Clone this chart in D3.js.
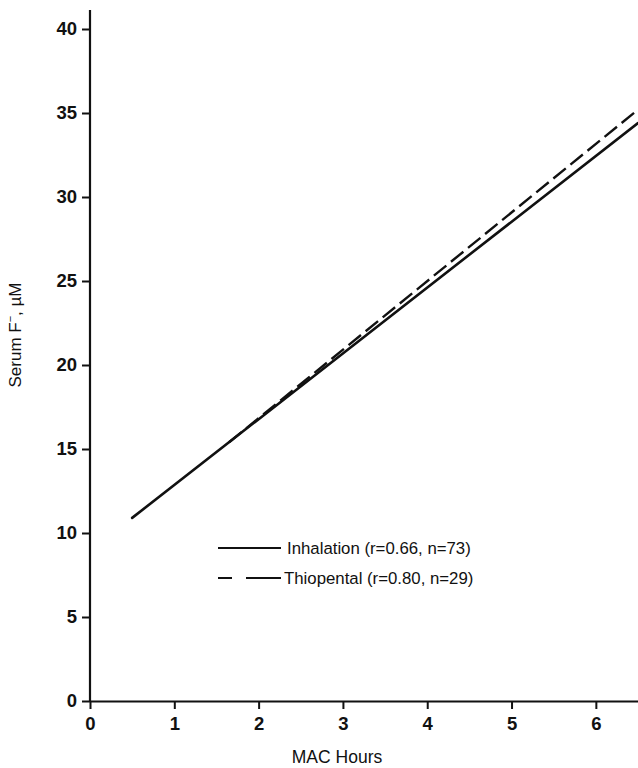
<!DOCTYPE html>
<html>
<head>
<meta charset="utf-8">
<script src="https://cdn.jsdelivr.net/npm/d3@7"></script>
<style>
  body { margin: 0; background: #fff; }
  text { font-family: "Liberation Sans", Arial, sans-serif; fill: #111; }
</style>
</head>
<body>
<svg id="chart"></svg>
<script>
/* chart size and margins */
const width = 638, height = 768;
const margin = { top: 10, right: 0, bottom: 67, left: 90 };

/* data */
const xTicks = [0, 1, 2, 3, 4, 5, 6];
const yTicks = [0, 5, 10, 15, 20, 25, 30, 35, 40];
const inhalationX = [0.5, 6.5];
const inhalationY = [10.9, 34.4];
const thiopentalX = [1.65, 6.5];
const thiopentalY = [15.4, 35.2];
const legendLabels = ["Inhalation (r=0.66, n=73)", "Thiopental (r=0.80, n=29)"];

const svg = d3.select("#chart").attr("width", width).attr("height", height);

/* scales */
const xScale = d3.scaleLinear().domain([0, 6.5]).range([margin.left, width - margin.right]);
const yScale = d3.scaleLinear().domain([0, 40]).range([height - margin.bottom, 29]);

/* x axis */
const xAxis = svg.append("g").attr("transform", `translate(0, ${height - margin.bottom})`)
  .call(d3.axisBottom(xScale).tickValues(xTicks).tickFormat(d3.format("d"))
    .tickSize(8).tickPadding(8).tickSizeOuter(0));
xAxis.select(".domain").attr("stroke-width", 2.2).attr("stroke", "#111");
xAxis.selectAll(".tick line").attr("stroke-width", 2).attr("stroke", "#111");
xAxis.selectAll(".tick text").attr("font-size", 18.5).style("font-weight", "bold");

/* y axis, drawn up to the top of the plot */
const yAxis = svg.append("g").attr("transform", `translate(${margin.left}, 0)`)
  .call(d3.axisLeft(yScale).tickValues(yTicks).tickFormat(d3.format("d"))
    .tickSize(8).tickPadding(5).tickSizeOuter(0));
yAxis.select(".domain").attr("d", `M0,${height - margin.bottom}V${margin.top}`)
  .attr("stroke-width", 2.2).attr("stroke", "#111");
yAxis.selectAll(".tick line").attr("stroke-width", 2).attr("stroke", "#111");
yAxis.selectAll(".tick text").attr("font-size", 18.5).style("font-weight", "bold");

/* regression lines */
const line = d3.line().x(d => xScale(d[0])).y(d => yScale(d[1]));
svg.append("path").datum(d3.zip(inhalationX, inhalationY)).attr("d", line)
  .attr("fill", "none").attr("stroke", "#111").attr("stroke-width", 2.6).attr("stroke-linecap", "round");
svg.append("path").datum(d3.zip(thiopentalX, thiopentalY)).attr("d", line)
  .attr("fill", "none").attr("stroke", "#111").attr("stroke-width", 2.4).attr("stroke-dasharray", "16,6");

/* legend */
const legend = svg.append("g");
legend.append("line").attr("x1", 218).attr("x2", 281).attr("y1", 548).attr("y2", 548)
  .attr("stroke", "#111").attr("stroke-width", 2);
legend.append("line").attr("x1", 218).attr("x2", 281).attr("y1", 578).attr("y2", 578)
  .attr("stroke", "#111").attr("stroke-width", 2).attr("stroke-dasharray", "14,14,35");
legend.append("text").attr("x", 287).attr("y", 554).attr("font-size", 16.8).text(legendLabels[0]);
legend.append("text").attr("x", 284).attr("y", 584).attr("font-size", 16.8).text(legendLabels[1]);

/* axis titles */
svg.append("text").attr("x", 337).attr("y", 763).attr("text-anchor", "middle")
  .attr("font-size", 17.5).text("MAC Hours");
const ytitle = svg.append("text").attr("transform", "translate(21, 335) rotate(-90)")
  .attr("text-anchor", "middle").attr("font-size", 17);
ytitle.append("tspan").text("Serum F");
ytitle.append("tspan").attr("dy", -7).attr("font-size", 11).text("\u2212");
ytitle.append("tspan").attr("dy", 7).text(", \u00b5M");
</script>
</body>
</html>
